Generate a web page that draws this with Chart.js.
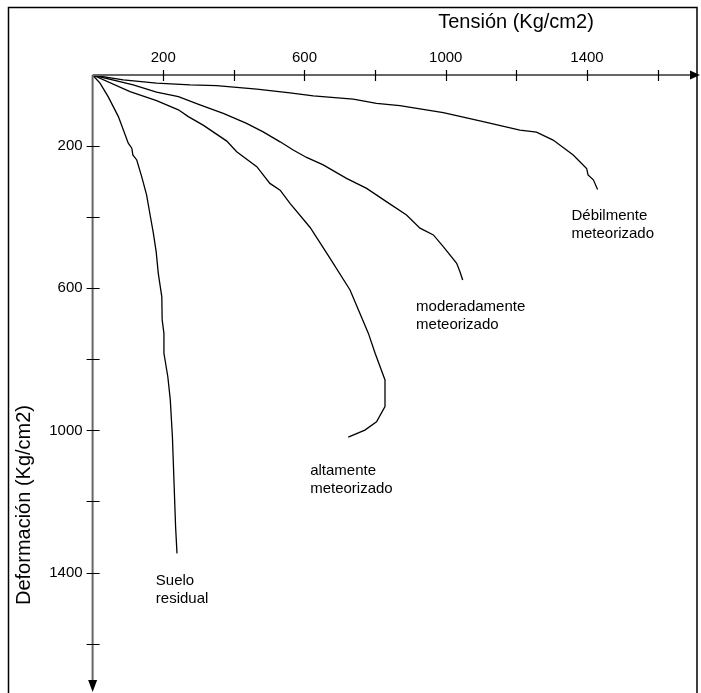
<!DOCTYPE html>
<html>
<head>
<meta charset="utf-8">
<script src="https://cdn.jsdelivr.net/npm/chart.js@4.4.1/dist/chart.umd.min.js"></script>
<style>
  html, body { margin: 0; padding: 0; background: #fff; }
  #wrap { width: 701px; height: 693px; }
</style>
</head>
<body>
<div id="wrap"><canvas id="myChart" width="701" height="693"></canvas></div>
<script>
// Tensión (x) y deformación (y), Kg/cm2
var tensionDebil = [0, 87, 181, 276, 351, 465, 559, 625, 738, 804, 870, 993, 1106, 1210, 1257, 1304, 1361, 1399, 1403, 1418, 1430];
var deformDebil  = [0, 14, 23, 28, 30, 40, 50, 59, 68, 80, 86, 106, 131, 155, 161, 183, 225, 263, 281, 295, 322];

var tensionModerado = [0, 115, 181, 243, 304, 370, 436, 483, 531, 568, 606, 653, 719, 776, 833, 889, 927, 965, 993, 1031, 1040, 1048];
var deformModerado  = [0, 28, 48, 61, 84, 108, 136, 160, 188, 211, 232, 253, 291, 319, 357, 394, 431, 450, 483, 530, 553, 577];

var tensionAlto = [0, 106, 181, 243, 271, 313, 380, 408, 465, 502, 531, 559, 616, 672, 729, 781, 800, 828, 828, 804, 771, 724];
var deformAlto  = [0, 47, 72, 98, 117, 141, 186, 216, 258, 305, 324, 361, 429, 515, 605, 727, 783, 858, 933, 976, 999, 1019];

var tensionSuelo = [0, 21, 44, 73, 101, 111, 114, 125, 139, 153, 162, 172, 180, 186, 196, 197, 202, 202, 213, 220, 226, 230, 235, 239];
var deformSuelo  = [0, 23, 61, 117, 192, 206, 225, 239, 286, 338, 389, 445, 497, 558, 624, 689, 727, 783, 849, 914, 1018, 1130, 1271, 1346];

var tickValues = [200, 400, 600, 800, 1000, 1200, 1400, 1600];
var tickLabels = ['200', '600', '1000', '1400'];

var seriesNames = ['Débilmente meteorizado', 'moderadamente meteorizado', 'altamente meteorizado', 'Suelo residual'];

function pts(xs, ys) {
    return xs.map(function (x, i) { return { x: x, y: ys[i] }; });
}

var FONT = '"Liberation Sans", Arial, sans-serif';

var decor = {
    id: 'decor',
    beforeDraw: function (chart) {
        var c = chart.ctx;
        c.save();
        c.fillStyle = '#fff';
        c.fillRect(0, 0, chart.width, chart.height);
        c.restore();
    },
    afterDraw: function (chart, args, opts) {
        var c = chart.ctx;
        var xs = chart.scales.x, ys = chart.scales.y;
        var a = chart.chartArea;
        c.save();
        // marco
        c.strokeStyle = '#000';
        c.lineWidth = 1.5;
        c.strokeRect(8.5, 7.5, 688.5, 700);

        // ejes
        c.strokeStyle = '#666';
        c.lineWidth = 2;
        c.beginPath();
        c.moveTo(a.left, a.top); c.lineTo(a.right - 8, a.top);
        c.moveTo(a.left, a.top); c.lineTo(a.left, a.bottom - 10);
        c.stroke();

        // flechas
        c.fillStyle = '#000';
        c.beginPath();
        c.moveTo(a.right, a.top);
        c.lineTo(a.right - 10, a.top - 4.5);
        c.lineTo(a.right - 10, a.top + 4.5);
        c.closePath();
        c.fill();
        c.beginPath();
        c.moveTo(a.left, a.bottom);
        c.lineTo(a.left - 4.5, a.bottom - 12);
        c.lineTo(a.left + 4.5, a.bottom - 12);
        c.closePath();
        c.fill();

        // marcas
        c.strokeStyle = '#000';
        c.lineWidth = 1.2;
        c.beginPath();
        tickValues.forEach(function (v) {
            var px = Math.round(xs.getPixelForValue(v)) + 0.5;
            c.moveTo(px, a.top - 5); c.lineTo(px, a.top + 6);
            var py = Math.round(ys.getPixelForValue(v)) + 0.5;
            c.moveTo(a.left - 6, py); c.lineTo(a.left + 7, py);
        });
        c.stroke();

        // títulos de ejes
        c.fillStyle = '#000';
        c.font = '20px ' + FONT;
        c.textAlign = 'center';
        c.textBaseline = 'middle';
        c.fillText('Tensión (Kg/cm2)', 516, 22);
        c.save();
        c.translate(24, 505);
        c.rotate(-Math.PI / 2);
        c.fillText('Deformación (Kg/cm2)', 0, 0);
        c.restore();

        // rótulos de curvas
        c.font = '15px ' + FONT;
        c.textAlign = 'left';
        opts.labels.forEach(function (l) {
            var px = xs.getPixelForValue(l.x), py = ys.getPixelForValue(l.y);
            l.text.forEach(function (t, i) {
                c.fillText(t, px, py + i * 18);
            });
        });
        c.restore();
    }
};

function tickOpts(pad) {
    return {
        stepSize: 200,
        autoSkip: false,
        maxRotation: 0,
        padding: pad,
        color: '#000',
        font: { size: 15, family: FONT },
        callback: function (v) { return tickLabels.indexOf(String(v)) >= 0 ? String(v) : ''; }
    };
}

function noPad(s) {
    s.paddingLeft = 0; s.paddingRight = 0;
    s.paddingTop = 0; s.paddingBottom = 0;
}

var ctx = document.getElementById('myChart').getContext('2d');
var chart = new Chart(ctx, {
    type: 'scatter',
    data: {
        datasets: [
            { label: seriesNames[0], data: pts(tensionDebil, deformDebil) },
            { label: seriesNames[1], data: pts(tensionModerado, deformModerado) },
            { label: seriesNames[2], data: pts(tensionAlto, deformAlto) },
            { label: seriesNames[3], data: pts(tensionSuelo, deformSuelo) }
        ]
    },
    options: {
        responsive: false,
        animation: false,
        layout: { padding: { left: 0, top: 0, right: 1, bottom: 1 } },
        elements: {
            line: { borderColor: '#000', borderWidth: 1.3, tension: 0, fill: false },
            point: { radius: 0, hoverRadius: 0 }
        },
        datasets: { scatter: { showLine: true } },
        plugins: {
            legend: { display: false },
            tooltip: { enabled: false },
            decor: {
                labels: [
                    { x: 1356, y: 397, text: ['Débilmente', 'meteorizado'] },
                    { x: 916, y: 653, text: ['moderadamente', 'meteorizado'] },
                    { x: 616, y: 1114, text: ['altamente', 'meteorizado'] },
                    { x: 179, y: 1424, text: ['Suelo', 'residual'] }
                ]
            }
        },
        scales: {
            x: {
                type: 'linear',
                position: 'top',
                min: 0,
                max: 1720,
                grid: { display: false, drawTicks: false },
                border: { display: false },
                ticks: tickOpts(8),
                afterFit: function (s) { s.height = 75; noPad(s); }
            },
            y: {
                type: 'linear',
                position: 'left',
                reverse: true,
                min: 0,
                max: 1736,
                grid: { display: false, drawTicks: false },
                border: { display: false },
                ticks: tickOpts(10),
                afterFit: function (s) { s.width = 92.6; noPad(s); }
            }
        }
    },
    plugins: [decor]
});
</script>
</body>
</html>
